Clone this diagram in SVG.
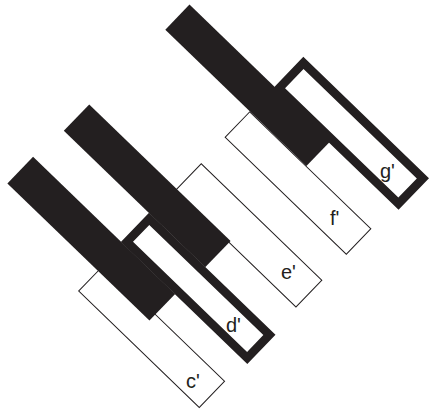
<svg xmlns="http://www.w3.org/2000/svg" width="429" height="412" viewBox="0 0 429 412">
  <style>
    .white { fill: #ffffff; stroke: #231f20; stroke-width: 1; }
    .marked { fill: #ffffff; stroke: #231f20; stroke-width: 8.6; }
    .black { fill: #231f20; stroke: none; }
    .label { font-family: "Liberation Sans", Arial, sans-serif; font-size: 20px; fill: #231f20; }
  </style>
  <rect x="0" y="0" width="429" height="412" fill="#ffffff"/>
  <g id="keyboard" transform="rotate(44)">
    <g id="key-c1"><rect class="white" x="258.8" y="118.3" width="167.6" height="36.4"/></g>
    <g id="key-d1"><rect class="marked" x="259.3" y="53.8" width="167.2" height="32"/></g>
    <g id="key-e1"><rect class="white" x="258.5" y="-22" width="167.6" height="37.2"/></g>
    <g id="key-f1"><rect class="white" x="257.3" y="-93" width="168.4" height="35.3"/></g>
    <g id="key-g1"><rect class="marked" x="262" y="-165.5" width="166.1" height="35.2"/></g>
    <g id="black-cd"><rect class="black" x="132.7" y="89.8" width="197.5" height="37"/></g>
    <g id="black-de"><rect class="black" x="136.8" y="13.2" width="196.5" height="36.6"/></g>
    <g id="black-fg"><rect class="black" x="139.5" y="-128.3" width="196.2" height="34.8"/></g>
  </g>
  <g id="labels">
    <text class="label" x="186" y="388">c'</text>
    <text class="label" x="226" y="332">d'</text>
    <text class="label" x="281" y="279">e'</text>
    <text class="label" x="330" y="225">f'</text>
    <text class="label" x="380" y="178">g'</text>
  </g>
</svg>
